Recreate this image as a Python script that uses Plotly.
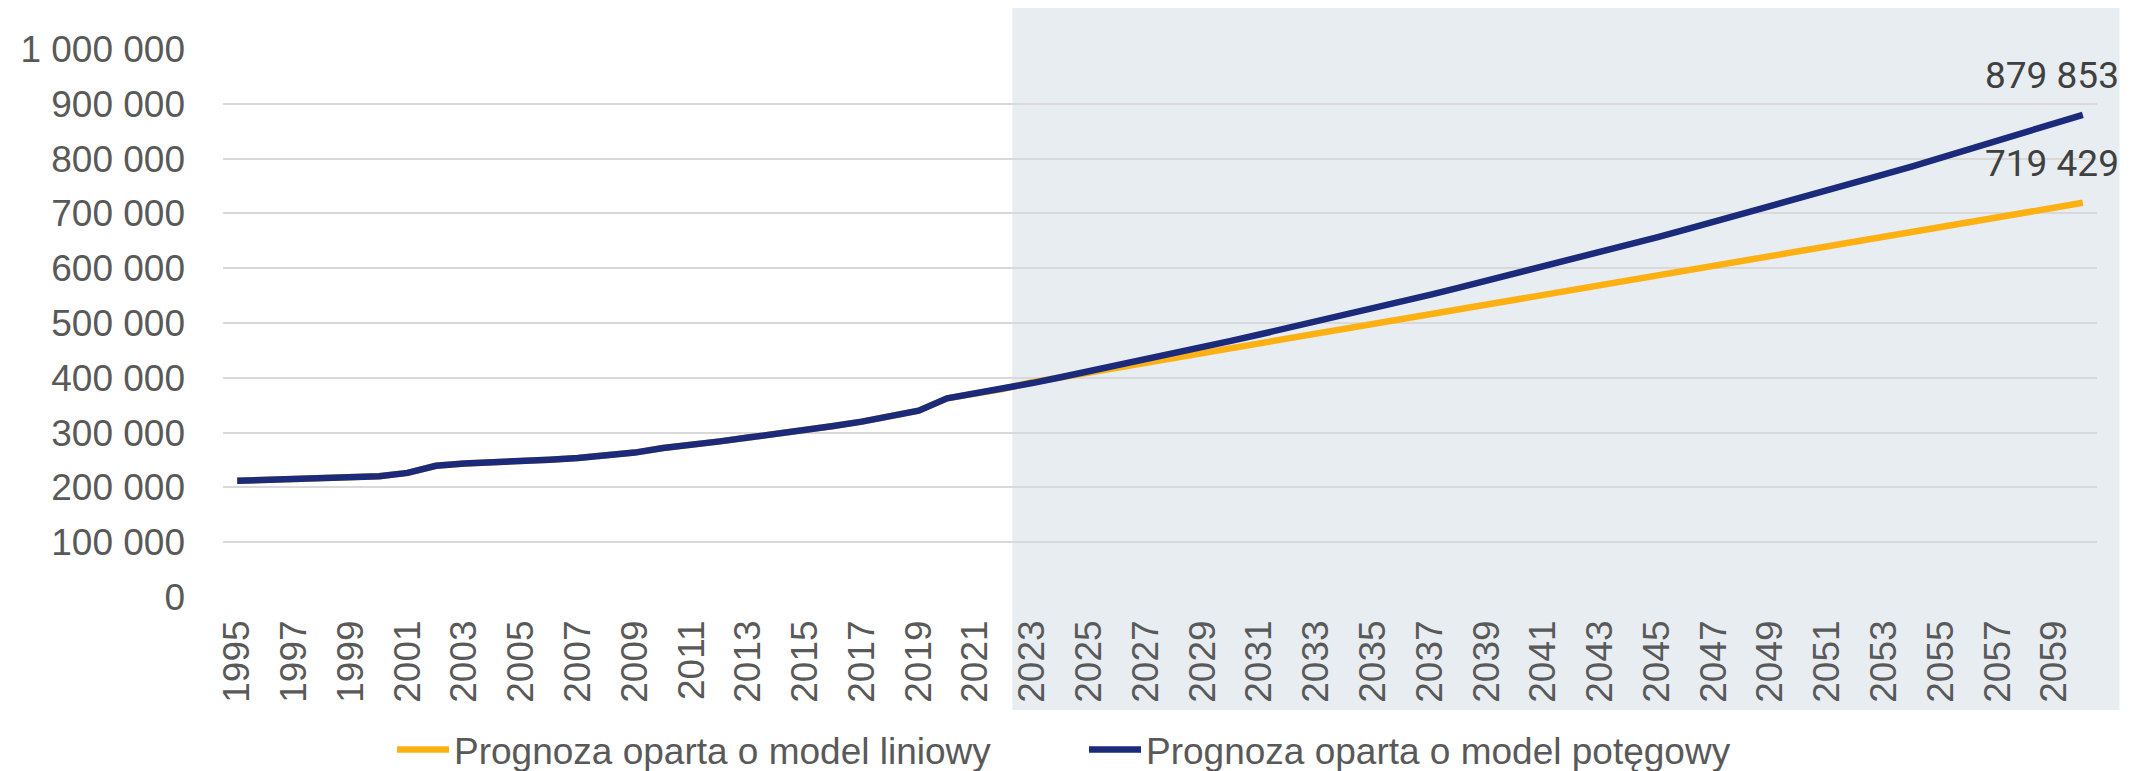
import plotly.graph_objects as go

years = list(range(1995, 2061))

# historical values 1995-2022 (shared by both series)
hist = [212000, 213500, 215000, 216000, 218500, 220500, 226500, 239500, 243500, 245000,
        247000, 250500, 253500, 258000, 263500, 272000, 277000, 284000, 291000, 297500,
        304000, 312000, 320000, 329000, 340000, 362500, 371000, 380000]

# forecast 2023-2060, linear model
linear_fc = [392000, 400900, 409700, 418600, 427400, 436300, 445100, 454000, 462800, 471700,
             480500, 489400, 498200, 507100, 515900, 524800, 533600, 542500, 551300, 560200,
             569000, 577900, 586700, 595600, 604400, 613300, 622100, 631000, 639800, 648700,
             657500, 666400, 675200, 684100, 692900, 701800, 710600, 719429]

# forecast 2023-2060, power model
power_fc = [390400, 401000, 411700, 422500, 433500, 444700, 456000, 467400, 479000, 490700,
            502600, 514600, 526700, 539000, 551400, 564000, 576800, 589700, 602700, 616000,
            629300, 642800, 656400, 670200, 684200, 698300, 712500, 727000, 741500, 756200,
            771000, 786000, 801200, 816500, 832000, 847600, 863300, 879853]

tick_years = list(range(1995, 2060, 2))
forecast_start = 2022.3  # start of shaded forecast area

names = ['Prognoza oparta o model liniowy', 'Prognoza oparta o model potęgowy']
colors = ['#FDB012', '#1B2A7B']
series = [hist + linear_fc, hist + power_fc]

x_min, x_max = 1994.5, 2060.5

fig = go.Figure()
for name, col, vals in zip(names, colors, series):
    fig.add_trace(go.Scatter(x=years, y=vals, name=name, mode='lines',
                             line=dict(color=col, width=6.5)))

# end labels
for vals in series:
    fig.add_annotation(x=years[-1], y=vals[-1], text=f"{vals[-1]:,}".replace(",", " "),
                       showarrow=False, xanchor='right', yanchor='middle',
                       xshift=38, yshift=39,
                       font=dict(family='Roboto', size=37, color='#404040'))

x0_paper = (forecast_start - x_min) / (x_max - x_min)
fig.add_shape(type='rect', xref='paper', yref='paper', x0=x0_paper, x1=1.012,
              y0=-0.206, y1=1.08, fillcolor='#E7EDF1', line_width=0, layer='below')

# the page puts the figure 8px in from the top-left corner
fig.update_layout(
    width=2142, height=771,
    margin=dict(l=206, r=53, t=41, b=182),
    paper_bgcolor='white', plot_bgcolor='rgba(0,0,0,0)',
    separators=', ',
    font=dict(family='Liberation Sans, Arial', color='#595959'),
    showlegend=True,
    legend=dict(orientation='h', xref='container', yref='container',
                x=384 / 2142, xanchor='left', y=29 / 771, yanchor='middle',
                font=dict(size=37, color='#595959'), entrywidth=625, itemwidth=52,
                bgcolor='rgba(0,0,0,0)'),
)
fig.update_xaxes(range=[x_min, x_max], tickvals=tick_years, ticktext=[str(y) for y in tick_years],
                 tickangle=-90, tickfont=dict(size=37, color='#595959'),
                 showgrid=False, zeroline=False, showline=False, ticklabelstandoff=15)
fig.update_yaxes(range=[0, 1000000], dtick=100000, tickformat=',d',
                 tickfont=dict(size=37, color='#595959'),
                 gridcolor='#D9D9D9', gridwidth=1.5, zeroline=False, showline=False,
                 ticklabelstandoff=37)

fig.write_html("out.html")
